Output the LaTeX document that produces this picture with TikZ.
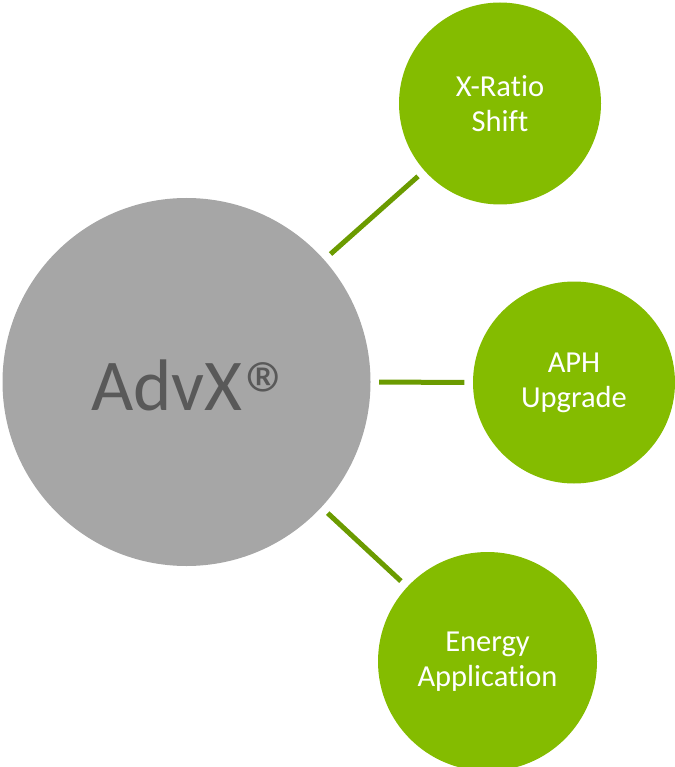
\documentclass[tikz,border=0pt]{standalone}
\usepackage{fontspec}
\setmainfont{Carlito}[Ligatures={NoCommon}]
\definecolor{hubgray}{HTML}{A6A6A6}
\definecolor{hubtext}{HTML}{595959}
\definecolor{leafgreen}{HTML}{84BC00}
\definecolor{linkgreen}{HTML}{6B9B00}
\begin{document}
\begin{tikzpicture}[x=1pt,y=1pt,
  hub/.style={circle,fill=hubgray,draw=none,inner sep=0pt,minimum size=368pt,
    text=hubtext,font=\fontsize{73}{88}\selectfont,text height=56pt,text depth=0pt},
  leaf/.style={circle,fill=leafgreen,draw=none,inner sep=0pt,
    text=white,align=center,font=\fontsize{30.5}{35}\selectfont},
  link/.style={draw=linkgreen,line width=5pt,shorten <=8.5pt,shorten >=8.5pt}]
\useasboundingbox (0,0) rectangle (674,-767);
\node[hub] (hub) at (186.5,-382) {\hspace{13pt}AdvX\hspace{3pt}\raisebox{-19pt}{\fontsize{97}{97}\selectfont ®}};
\node[leaf,minimum size=202pt] (xr) at (500,-103.5) {X-Ratio\\Shift};
\node[leaf,minimum size=202pt] (aph) at (574,-382.5) {APH\\Upgrade};
\node[leaf,minimum size=219pt] (en) at (487.5,-661.5) {Energy\\Application};
\draw[link] (hub) -- (xr);
\draw[link] (hub.east) -- (aph.west);
\draw[link] (hub) -- (en);
\end{tikzpicture}
\end{document}
